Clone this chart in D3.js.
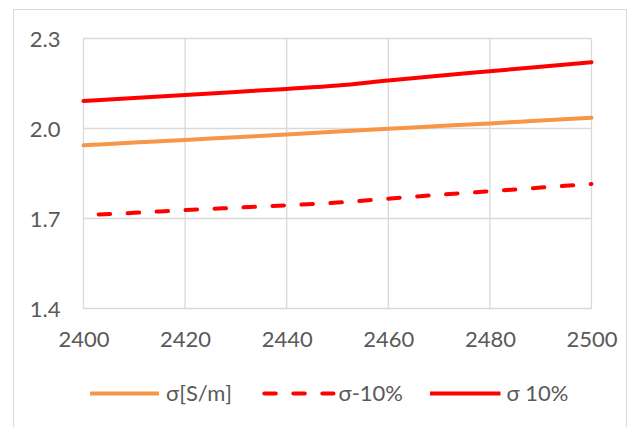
<!DOCTYPE html>
<html>
<head>
<meta charset="utf-8">
<script src="https://cdn.jsdelivr.net/npm/d3@7"></script>
<style>
  html, body { margin: 0; padding: 0; background: #fff; }
  svg { display: block; }
  text { font-family: Lato, "Open Sans", sans-serif; fill: #595959; }
</style>
</head>
<body>
<svg id="chart" width="632" height="427"></svg>
<script>
const xValues = [2400, 2410, 2420, 2430, 2440, 2450, 2460, 2470, 2480, 2490, 2500];
const sigma      = [1.944, 1.953, 1.962, 1.971, 1.980, 1.990, 1.999, 2.008, 2.017, 2.027, 2.036];
const sigmaMinus = [1.711, 1.719, 1.728, 1.736, 1.744, 1.753, 1.766, 1.779, 1.791, 1.803, 1.815];
const sigmaPlus  = [2.092, 2.102, 2.112, 2.122, 2.132, 2.143, 2.160, 2.176, 2.191, 2.206, 2.221];
const xTicks = [2400, 2420, 2440, 2460, 2480, 2500];
const yTicks = [1.4, 1.7, 2.0, 2.3];
const seriesNames = ["σ[S/m]", "σ-10%", "σ 10%"];

const svg = d3.select("#chart");
const FS = "22px";

// chart border
svg.append("rect")
  .attr("x", 13.5).attr("y", 9.5)
  .attr("width", 613).attr("height", 430)
  .attr("fill", "#fff").attr("stroke", "#d9d9d9").attr("stroke-width", 1);

const x = d3.scaleLinear().domain([2400, 2500]).range([83.5, 591.5]);
const y = d3.scaleLinear().domain([1.4, 2.3]).range([308.5, 38.5]);

// gridlines
const grid = svg.append("g");
grid.selectAll("line.h").data(yTicks).join("line")
  .attr("x1", x(2400)).attr("x2", x(2500))
  .attr("y1", d => y(d)).attr("y2", d => y(d))
  .attr("stroke", "#d9d9d9").attr("stroke-width", 1.3);
grid.selectAll("line.v").data(xTicks).join("line")
  .attr("y1", y(1.4)).attr("y2", y(2.3))
  .attr("x1", d => x(d)).attr("x2", d => x(d))
  .attr("stroke", "#d9d9d9").attr("stroke-width", 1.3);

// axes labels
const yAxis = d3.axisLeft(y).tickValues(yTicks).tickFormat(d3.format(".1f")).tickSize(0).tickPadding(23);
const gy = svg.append("g").attr("transform", `translate(${x(2400)},0)`).call(yAxis);
gy.select(".domain").remove();
gy.selectAll("text").style("font-size", FS).attr("fill", "#595959").attr("dy", "0.36em");

const xAxis = d3.axisBottom(x).tickValues(xTicks).tickFormat(d3.format("d")).tickSize(0);
const gx = svg.append("g").attr("transform", `translate(0,${y(1.4)})`).call(xAxis);
gx.select(".domain").remove();
gx.selectAll("text").style("font-size", FS).attr("fill", "#595959").attr("y", 38.8).attr("dy", 0);

// lines
const series = [
  { name: seriesNames[0], values: sigma, color: "#f79646", dash: null },
  { name: seriesNames[1], values: sigmaMinus, color: "#ff0000", dash: "11.5,17.5" },
  { name: seriesNames[2], values: sigmaPlus, color: "#ff0000", dash: null }
];
const line = d3.line().curve(d3.curveMonotoneX).x((d, i) => x(xValues[i])).y(d => y(d));

series.forEach(s => {
  svg.append("path")
    .attr("d", line(s.values))
    .attr("fill", "none")
    .attr("stroke", s.color)
    .attr("stroke-width", 4)
    .attr("stroke-linecap", "round")
    .attr("stroke-linejoin", "round")
    .attr("stroke-dasharray", s.dash)
    .attr("stroke-dashoffset", s.dash ? 13.8 : null);
});

// legend
const legendY = 393.5;
const legendItems = [
  { x1: 90, x2: 159, tx: 166 },
  { x1: 264.3, x2: 333.5, tx: 338.5 },
  { x1: 430, x2: 500.5, tx: 506.5 }
];
legendItems.forEach((it, i) => {
  const s = series[i];
  svg.append("line")
    .attr("x1", it.x1).attr("x2", it.x2)
    .attr("y1", legendY).attr("y2", legendY)
    .attr("stroke", s.color).attr("stroke-width", 4)
    .attr("stroke-linecap", s.dash ? "round" : "butt")
    .attr("stroke-dasharray", s.dash);
  svg.append("text")
    .attr("x", it.tx).attr("y", legendY)
    .attr("dy", "0.35em")
    .style("font-size", FS)
    .text(s.name);
});
</script>
</body>
</html>
